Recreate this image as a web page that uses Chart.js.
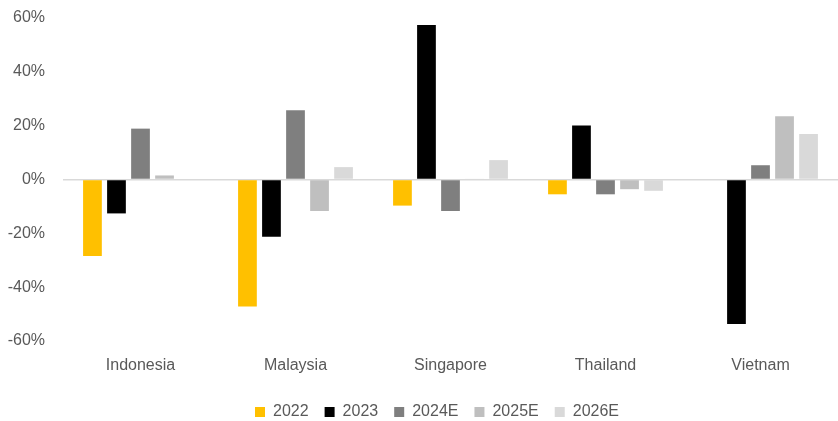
<!DOCTYPE html>
<html>
<head>
<meta charset="utf-8">
<script src="https://cdn.jsdelivr.net/npm/chart.js@4"></script>
<style>
  html, body { margin: 0; padding: 0; background: #fff; }
  #wrap { width: 838px; height: 421px; position: relative; }
</style>
</head>
<body>
<div id="wrap"><canvas id="growthChart"></canvas></div>
<script>
// Year-on-year change by market, in percent
const countries = ['Indonesia', 'Malaysia', 'Singapore', 'Thailand', 'Vietnam'];
const years = ['2022', '2023', '2024E', '2025E', '2026E'];
const values2022 = [-28.4, -47.2, -9.7, -5.5, 0];
const values2023 = [-12.6, -21.3, 57.4, 20.1, -53.7];
const values2024E = [18.9, 25.7, -11.7, -5.5, 5.3];
const values2025E = [1.5, -11.7, 0.3, -3.6, 23.5];
const values2026E = [0, 4.6, 7.2, -4.2, 16.9];
const yTicks = [-60, -40, -20, 0, 20, 40, 60];

const seriesValues = [values2022, values2023, values2024E, values2025E, values2026E];
const seriesColors = ['#FFC000', '#000000', '#7F7F7F', '#BFBFBF', '#D9D9D9'];

const fontFamily = "'Liberation Sans', 'DejaVu Sans', sans-serif";
const textColor = '#595959';

// legend sits a little lower and right of where Chart.js centres it
const nudgeLegend = {
    id: 'nudgeLegend',
    afterLayout(chart) {
        const l = chart.legend;
        l.left += 18; l.right += 18;
        l.top += 9; l.bottom += 9;
    }
};

new Chart(document.getElementById('growthChart'), {
    type: 'bar',
    data: {
        labels: countries,
        datasets: years.map((y, i) => ({
            label: y,
            data: seriesValues[i],
            backgroundColor: seriesColors[i],
            borderWidth: 0,
            categoryPercentage: 0.775,
            barPercentage: 0.78
        }))
    },
    plugins: [nudgeLegend],
    options: {
        responsive: true,
        maintainAspectRatio: false,
        animation: false,
        layout: { padding: { top: 18, right: 0, bottom: 0, left: 0 } },
        plugins: {
            legend: {
                position: 'bottom',
                labels: {
                    color: textColor,
                    font: { family: fontFamily, size: 16 },
                    boxWidth: 10,
                    boxHeight: 10,
                    padding: 16
                }
            },
            tooltip: { enabled: false }
        },
        scales: {
            x: {
                grid: { display: false },
                border: { display: false },
                ticks: { color: textColor, font: { family: fontFamily, size: 16 }, padding: 7 },
                afterFit: (axis) => { axis.height = 38; }
            },
            y: {
                min: -60,
                max: 60,
                afterBuildTicks: (axis) => { axis.ticks = yTicks.map(v => ({ value: v })); },
                // fixed axis width; drop the extra top/bottom room Chart.js reserves for labels
                afterFit: (axis) => {
                    axis.width = 63;
                    axis.paddingTop = 0;
                    axis.paddingBottom = 0;
                },
                grid: {
                    drawTicks: false,
                    lineWidth: 1.5,
                    color: (c) => c.tick && c.tick.value === 0 ? '#D9D9D9' : 'rgba(0,0,0,0)'
                },
                border: { display: false },
                ticks: {
                    color: textColor,
                    font: { family: fontFamily, size: 16 },
                    padding: 18,
                    callback: (v) => v + '%'
                }
            }
        }
    }
});
</script>
</body>
</html>
